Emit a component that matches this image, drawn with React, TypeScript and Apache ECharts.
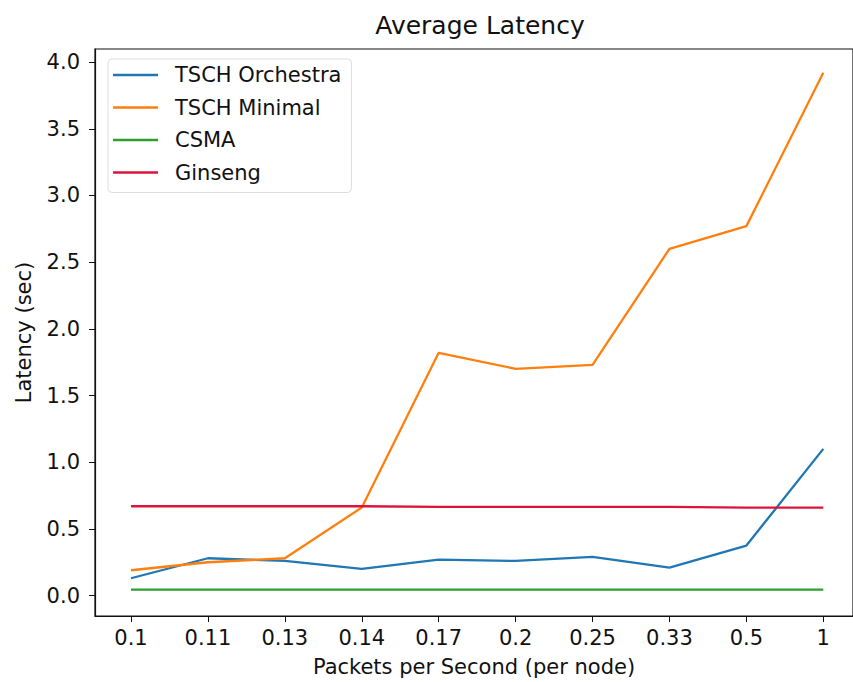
import React, { useEffect, useRef } from "react";
import * as echarts from "echarts";

const categories = ["0.1", "0.11", "0.13", "0.14", "0.17", "0.2", "0.25", "0.33", "0.5", "1"];
const orchestra = [0.13, 0.28, 0.26, 0.2, 0.27, 0.26, 0.29, 0.21, 0.375, 1.1];
const minimal = [0.19, 0.25, 0.28, 0.66, 1.82, 1.7, 1.73, 2.6, 2.77, 3.92];
const csma = [0.045, 0.045, 0.045, 0.045, 0.045, 0.045, 0.045, 0.045, 0.045, 0.045];
const ginseng = [0.67, 0.67, 0.67, 0.67, 0.665, 0.665, 0.665, 0.665, 0.66, 0.66];
const yTicks = [0, 0.5, 1, 1.5, 2, 2.5, 3, 3.5, 4];
const xTicks = [0, 1, 2, 3, 4, 5, 6, 7, 8, 9];

const FONT = "DejaVu Sans";

export default function App() {
  const ref = useRef<HTMLDivElement>(null);
  useEffect(() => {
    if (!ref.current) return;
    const chart = echarts.init(ref.current, undefined, { renderer: "svg" });
    const toPts = (arr: number[]) => arr.map((v, i) => [i, v]);
    const mk = (name: string, data: number[], color: string) => ({
      name,
      type: "line",
      data: toPts(data),
      showSymbol: false,
      symbol: "none",
      lineStyle: { color, width: 2.3 },
      itemStyle: { color },
    });
    chart.setOption({
      animation: false,
      backgroundColor: "#fff",
      textStyle: { fontFamily: FONT },
      title: {
        text: "Average Latency",
        left: 475,
        top: 8,
        textAlign: "center",
        textStyle: { fontFamily: FONT, fontSize: 25, fontWeight: "normal", color: "#111" },
      },
      grid: {
        left: 95,
        right: 0,
        top: 49,
        bottom: 66,
        show: true,
        borderColor: "#111",
        borderWidth: 1.2,
        backgroundColor: "transparent",
      },
      legend: {
        orient: "vertical",
        left: 108,
        top: 59,
        icon: "rect",
        itemWidth: 45,
        itemHeight: 2.5,
        itemGap: 10.5,
        padding: [5, 10, 9, 5],
        borderColor: "#ddd",
        borderWidth: 1,
        borderRadius: 4,
        backgroundColor: "rgba(255,255,255,0.8)",
        textStyle: { fontFamily: FONT, fontSize: 21, color: "#111", lineHeight: 22, padding: [0, 0, 0, 12] },
        data: ["TSCH Orchestra", "TSCH Minimal", "CSMA", "Ginseng"],
      },
      xAxis: {
        type: "value",
        min: -0.468,
        max: 9.386,
        name: "Packets per Second (per node)",
        nameLocation: "middle",
        nameGap: 40,
        nameTextStyle: { fontFamily: FONT, fontSize: 21, color: "#111" },
        splitLine: { show: false },
        axisLine: { show: true, onZero: false, lineStyle: { color: "#111", width: 1.2 } },
        axisTick: { show: true, length: 6, customValues: xTicks, lineStyle: { color: "#111" } },
        axisLabel: {
          customValues: xTicks,
          formatter: (v: number) => categories[Math.round(v)] ?? "",
          fontFamily: FONT,
          fontSize: 21,
          color: "#111",
          margin: 11,
        },
      },
      yAxis: {
        type: "value",
        min: -0.153,
        max: 4.098,
        name: "Latency (sec)",
        nameLocation: "middle",
        nameGap: 61,
        nameTextStyle: { fontFamily: FONT, fontSize: 21, color: "#111" },
        splitLine: { show: false },
        axisLine: { show: true, onZero: false, lineStyle: { color: "#111", width: 1.2 } },
        axisTick: { show: true, length: 6, customValues: yTicks, lineStyle: { color: "#111" } },
        axisLabel: {
          customValues: yTicks,
          formatter: (v: number) => v.toFixed(1),
          fontFamily: FONT,
          fontSize: 21,
          color: "#111",
          margin: 15,
        },
      },
      series: [
        mk("TSCH Orchestra", orchestra, "#1f77b4"),
        mk("TSCH Minimal", minimal, "#ff7f0e"),
        mk("CSMA", csma, "#2ca02c"),
        mk("Ginseng", ginseng, "#dc143c"),
      ],
    });
    return () => chart.dispose();
  }, []);
  return <div ref={ref} style={{ position: "fixed", left: 0, top: 0, width: 853, height: 682 }} />;
}
